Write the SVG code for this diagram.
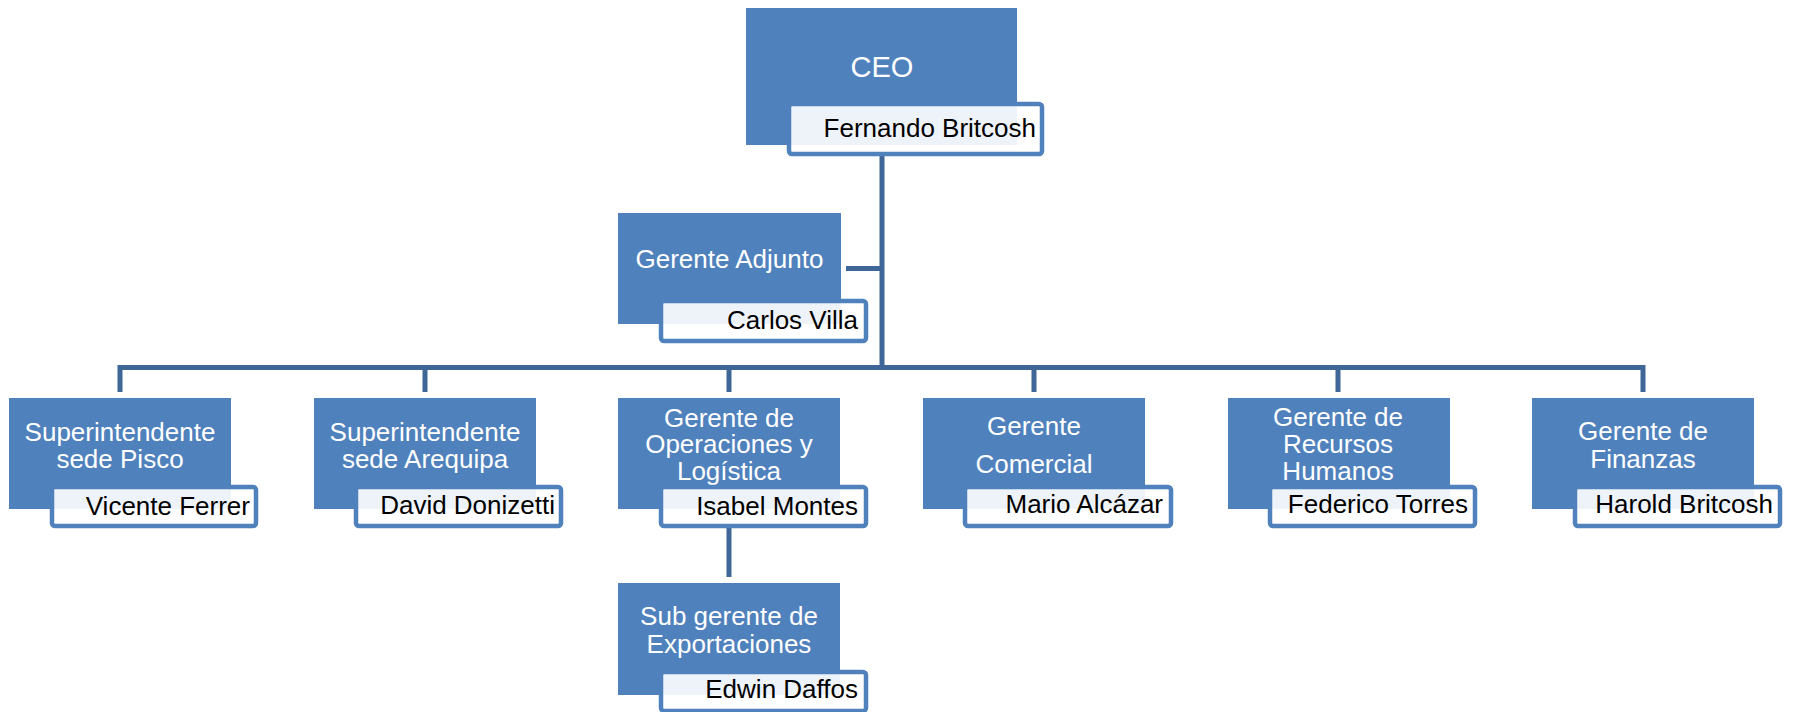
<svg xmlns="http://www.w3.org/2000/svg" width="1796" height="712" viewBox="0 0 1796 712">
<style>
.box{fill:#4f81bd}
.nb{fill:#ffffff;fill-opacity:0.9;stroke:#4f81bd;stroke-width:4.5}
.t{font-family:"Liberation Sans",Arial,sans-serif;font-size:26px;fill:#ffffff;text-anchor:middle}
.n{font-family:"Liberation Sans",Arial,sans-serif;font-size:26px;fill:#000000;text-anchor:end}
.c{fill:none;stroke:#3e6797;stroke-width:5;stroke-linejoin:miter;stroke-linecap:butt}
</style>
<rect width="1796" height="712" fill="#ffffff"/>
<g id="connectors">
<path class="c" d="M882 156V370"/>
<path class="c" d="M846 268.5H882"/>
<path class="c" d="M120 392V367.5H1643V392"/>
<path class="c" d="M425 367.5V392M729 367.5V392M1034 367.5V392M1338 367.5V392"/>
<path class="c" d="M729 528V577"/>
</g>
<g id="ceo">
<rect class="box" x="746" y="8" width="271" height="137"/>
<text class="t" x="882" y="77" style="font-size:29px">CEO</text>
<rect class="nb" x="789" y="104" width="253" height="50" rx="3"/>
<text class="n" x="1036" y="137">Fernando Britcosh</text>
</g>
<g id="adjunto">
<rect class="box" x="618" y="213" width="223" height="111"/>
<text class="t" x="729.5" y="268">Gerente Adjunto</text>
<rect class="nb" x="661" y="301" width="205" height="40" rx="3"/>
<text class="n" x="858" y="329">Carlos Villa</text>
</g>
<g id="pisco">
<rect class="box" x="9" y="398" width="222" height="111"/>
<text class="t" x="120" y="441">Superintendente<tspan x="120" y="468">sede Pisco</tspan></text>
<rect class="nb" x="52" y="487" width="204" height="39" rx="3"/>
<text class="n" x="250" y="515">Vicente Ferrer</text>
</g>
<g id="arequipa">
<rect class="box" x="314" y="398" width="222" height="111"/>
<text class="t" x="425" y="441">Superintendente<tspan x="425" y="468">sede Arequipa</tspan></text>
<rect class="nb" x="356" y="487" width="205" height="39" rx="3"/>
<text class="n" x="555" y="514">David Donizetti</text>
</g>
<g id="operaciones">
<rect class="box" x="618" y="398" width="222" height="111"/>
<text class="t" x="729" y="427">Gerente de<tspan x="729" y="453">Operaciones y</tspan><tspan x="729" y="480">Logística</tspan></text>
<rect class="nb" x="661" y="487" width="205" height="39" rx="3"/>
<text class="n" x="858" y="515">Isabel Montes</text>
</g>
<g id="comercial">
<rect class="box" x="923" y="398" width="222" height="111"/>
<text class="t" x="1034" y="435">Gerente<tspan x="1034" y="473">Comercial</tspan></text>
<rect class="nb" x="965" y="487" width="206" height="39" rx="3"/>
<text class="n" x="1163" y="513">Mario Alcázar</text>
</g>
<g id="rrhh">
<rect class="box" x="1228" y="398" width="222" height="111"/>
<text class="t" x="1338" y="426">Gerente de<tspan x="1338" y="453">Recursos</tspan><tspan x="1338" y="480">Humanos</tspan></text>
<rect class="nb" x="1270" y="487" width="205" height="39" rx="3"/>
<text class="n" x="1468" y="513">Federico Torres</text>
</g>
<g id="finanzas">
<rect class="box" x="1532" y="398" width="222" height="111"/>
<text class="t" x="1643" y="440">Gerente de<tspan x="1643" y="468">Finanzas</tspan></text>
<rect class="nb" x="1575" y="487" width="205" height="39" rx="3"/>
<text class="n" x="1773" y="513">Harold Britcosh</text>
</g>
<g id="subgerente">
<rect class="box" x="618" y="583" width="222" height="112"/>
<text class="t" x="729" y="625">Sub gerente de<tspan x="729" y="653">Exportaciones</tspan></text>
<rect class="nb" x="661" y="672" width="205" height="39" rx="3"/>
<text class="n" x="858" y="698">Edwin Daffos</text>
</g>
</svg>
